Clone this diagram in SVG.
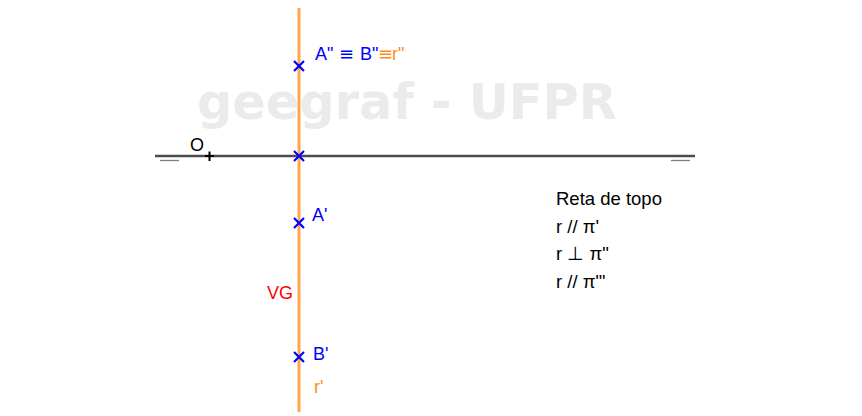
<svg xmlns="http://www.w3.org/2000/svg" width="862" height="416" viewBox="0 0 862 416">
<style>
text{font-family:"Liberation Sans",Arial,sans-serif;font-size:18px}
.b{fill:#0000ff}.o{fill:#ff8c1a}.k{fill:#000}
.n{font-size:18.500px}
.e{font-family:"DejaVu Sans",sans-serif;font-size:18px}
.x{stroke:#0000ff;stroke-width:2.200;fill:none}
</style>
<rect width="862" height="416" fill="#fff"/>
<text id="watermark" x="197" y="119" style="font-family:'DejaVu Sans',sans-serif;font-size:49.400px;font-weight:bold" fill="#ebebeb">geegraf - UFPR</text>
<g id="connectors">
<line x1="155" y1="156" x2="695" y2="156" stroke="#4d4d4d" stroke-width="2.4"/>
<line x1="160" y1="160.500" x2="179" y2="160.500" stroke="#808080" stroke-width="1.300"/>
<line x1="671" y1="160.500" x2="690" y2="160.500" stroke="#808080" stroke-width="1.300"/>
<line x1="299" y1="8" x2="299" y2="412" stroke="#ffa64d" stroke-width="3"/>
</g>
<g id="O"><path d="M205 156H214M209.500 151.500V161" stroke="#000" stroke-width="2" fill="none"/><text class="k" x="190" y="151">O</text></g>
<g id="A2"><path class="x" d="M294 61L304 71M304 61L294 71"/><text x="315" y="60" class="b">A"<tspan class="e" x="339">≡</tspan><tspan x="360">B"</tspan><tspan class="e o" x="378">≡</tspan><tspan class="o" x="392">r"</tspan></text></g>
<g id="origin"><path class="x" d="M294 151L304 161M304 151L294 161"/></g>
<g id="A1"><path class="x" d="M294 218L304 228M304 218L294 228"/><text class="b" x="312" y="221">A'</text></g>
<g id="B1"><path class="x" d="M294 352L304 362M304 352L294 362"/><text class="b" x="313" y="360">B'</text></g>
<g id="VG"><text x="267" y="299" fill="#ff0000">VG</text></g>
<g id="r1"><text class="o" x="314" y="393">r'</text></g>
<g id="note" class="k">
<text class="n" x="556" y="205">Reta de topo</text>
<text class="n" x="556" y="233">r // π'</text>
<text class="n" x="556" y="260">r ⊥ π"</text>
<text class="n" x="556" y="288">r // π"'</text>
</g>
</svg>
